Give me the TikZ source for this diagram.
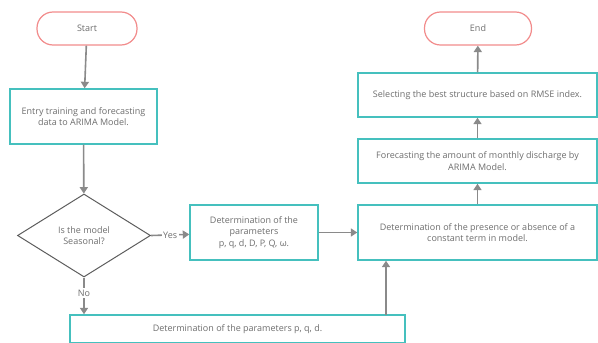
\documentclass[tikz,border=0pt]{standalone}
\usepackage{fontspec}
\setmainfont{Open Sans}
\usetikzlibrary{shapes.geometric,arrows.meta}
\definecolor{tealc}{HTML}{45C0BE}
\definecolor{pinkc}{HTML}{F28C8C}
\definecolor{arrc}{HTML}{8A8A8A}
\definecolor{txtc}{HTML}{6E6E6E}
\begin{document}
\begin{tikzpicture}[x=1pt,y=-1pt,
  every node/.style={text=txtc, font=\fontsize{9}{11.5}\selectfont},
  box/.style={draw=tealc, line width=1.4pt, fill=white, align=center, inner sep=0pt},
  term/.style={draw=pinkc, line width=1.2pt, fill=white, rounded corners=16pt, inner sep=0pt, minimum width=100pt, minimum height=33pt},
  dec/.style={draw=txtc!85!black, line width=1pt, diamond, inner sep=0pt, align=center, minimum width=133pt, minimum height=83pt},
  arr/.style={draw=arrc, line width=1.6pt, -{Triangle[width=8pt,length=6.5pt]}},
  lbl/.style={fill=white, inner sep=1.5pt}]
\useasboundingbox (0,0) rectangle (598,343);
\node[term] (start) at (87,28.5) {Start};
\node[term, minimum width=107pt] (end) at (478,28.5) {End};
\node[box, minimum width=147pt, minimum height=55pt] (entry) at (83.5,116.5) {Entry training and forecasting\\data to ARIMA Model.};
\node[dec] (dia) at (84,235.5) {Is the model\\Seasonal?};
\node[box, minimum width=128pt, minimum height=55pt] (par) at (254,232.5) {Determination of the\\parameters\\p, q, d, D, P, Q, ω.};
\node[box, minimum width=239pt, minimum height=55pt] (const) at (477.5,232.5) {Determination of the presence or absence of a\\constant term in model.};
\node[box, minimum width=239pt, minimum height=44pt] (fore) at (477.5,161) {Forecasting the amount of monthly discharge by\\ARIMA Model.};
\node[box, minimum width=239pt, minimum height=44pt] (sel) at (477.5,95) {Selecting the best structure based on RMSE index.};
\node[box, minimum width=335pt, minimum height=27.5pt] (bot) at (237.5,328.75) {Determination of the parameters p, q, d.};
\coordinate (bu) at (386,315);
\draw[arr] (start) -- (entry);
\draw[arr] (entry) -- (dia);
\draw[arr] (dia.east) -- node[lbl]{Yes} (par);
\draw[arr] (par) -- (const);
\draw[arr] (dia.south) -- node[lbl, pos=0.42]{No} (dia.south |- bot.north);
\draw[arr] (bu) -- (bu |- const.south);
\draw[arr] (const) -- (fore);
\draw[arr] (fore) -- (sel);
\draw[arr] (sel) -- (end);
\end{tikzpicture}
\end{document}
